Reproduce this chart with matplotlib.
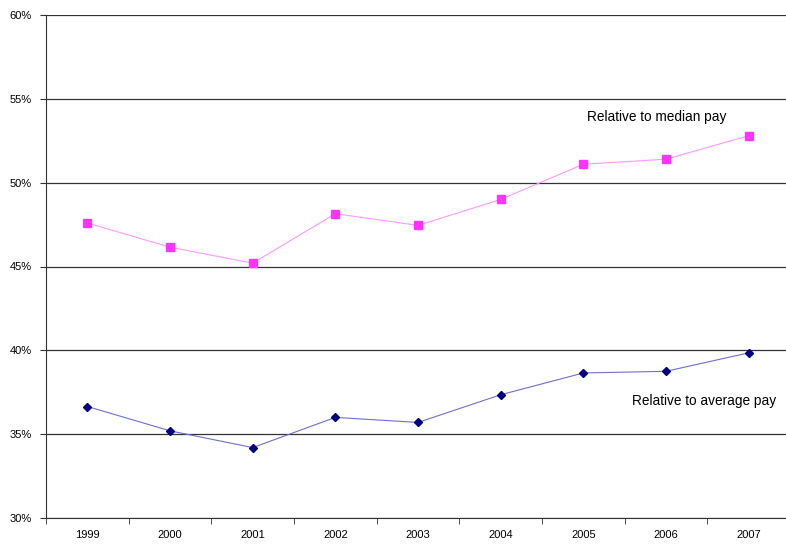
import numpy as np
import matplotlib.pyplot as plt
import matplotlib.ticker as ticker

plt.rcParams['font.family'] = ['Liberation Sans', 'DejaVu Sans']
plt.rcParams['font.size'] = 8

# data
years = ['1999', '2000', '2001', '2002', '2003', '2004', '2005', '2006', '2007']
median_pay = [47.6, 46.15, 45.2, 48.15, 47.45, 49.0, 51.1, 51.4, 52.8]
average_pay = [36.65, 35.2, 34.2, 36.0, 35.7, 37.35, 38.65, 38.75, 39.85]

fig = plt.figure(figsize=(7.86, 5.44), dpi=100)
ax = fig.add_axes([46 / 786, 26 / 544, 744 / 786, 503 / 544])

x = np.arange(len(years))
ax.plot(x, median_pay, color='#ff99ff', lw=0.8, marker='s', markersize=5.2,
        markerfacecolor='#ff33ff', markeredgecolor='#ff33ff', zorder=3)
ax.plot(x, average_pay, color='#6f6fcf', lw=0.8, marker='D', markersize=4.2,
        markerfacecolor='#000080', markeredgecolor='#000080', zorder=3)

# series labels
fig.text(587 / 786, 1 - 117 / 544, 'Relative to median pay', fontsize=9.8,
         va='center', ha='left')
fig.text(632 / 786, 1 - 401 / 544, 'Relative to average pay', fontsize=9.8,
         va='center', ha='left')

ax.set_xlim(-0.5, len(years) - 0.5)
ax.set_ylim(30, 60)
ax.set_yticks(range(30, 61, 5))
ax.yaxis.set_major_formatter(ticker.FuncFormatter(lambda v, p: '%d%%' % v))
ax.set_xticks(x)
ax.set_xticklabels(years)
ax.set_xticks(np.arange(-0.5, len(years), 1), minor=True)
ax.tick_params(axis='x', which='major', length=0, pad=9)
ax.tick_params(axis='x', which='minor', length=4, direction='out', color='#333333')
ax.tick_params(axis='y', length=4, direction='out', color='#333333', pad=6)
ax.grid(axis='y', color='#333333', lw=0.9)
ax.set_axisbelow(True)

for s in ['top', 'right']:
    ax.spines[s].set_visible(False)
ax.spines['left'].set_color('#333333')
ax.spines['bottom'].set_color('#333333')

plt.savefig('out.png', dpi=100)
